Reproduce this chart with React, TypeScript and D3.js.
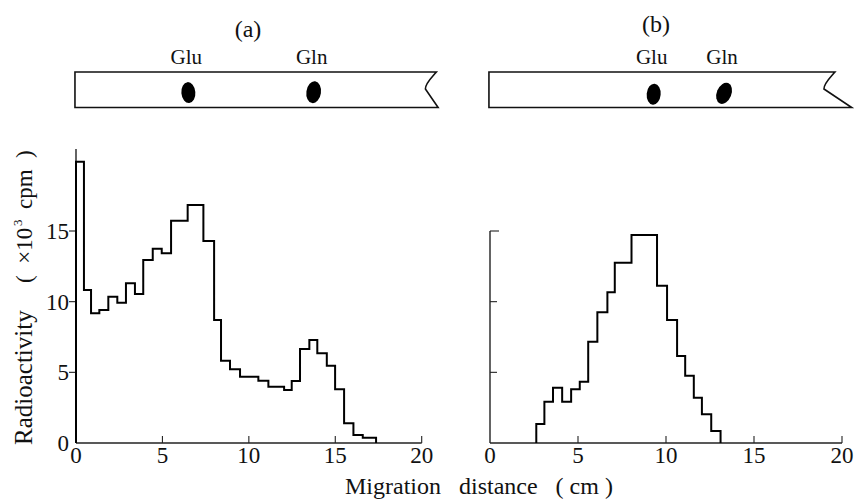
import React from 'react';
import * as d3 from 'd3';

// ---- data ----
const xTicks = [0, 5, 10, 15, 20];
const yTicksLeft = [0, 5, 10, 15];
const yTicksRight = [5, 10, 15];

// panel (a): bin edges (cm) and radioactivity (x10^3 cpm)
const edgesA = [0, 0.46, 0.87, 1.35, 1.87, 2.39, 2.89, 3.41, 3.89, 4.44, 4.96, 5.5, 6.46, 7.37, 7.99, 8.39, 8.91, 9.49, 10.55, 11.13, 12.04, 12.48, 12.96, 13.5, 13.96, 14.51, 14.99, 15.51, 16.05, 16.59, 17.36];
const valuesA = [19.9, 10.83, 9.18, 9.41, 10.35, 9.93, 11.3, 10.55, 12.95, 13.75, 13.43, 15.73, 16.84, 14.3, 8.7, 5.82, 5.22, 4.69, 4.41, 3.98, 3.75, 4.39, 6.65, 7.29, 6.35, 5.47, 3.8, 1.39, 0.57, 0.38];

// panel (b)
const edgesB = [2.63, 3.09, 3.58, 4.1, 4.61, 5.1, 5.58, 6.1, 6.67, 7.09, 8.04, 9.49, 10.06, 10.63, 11.09, 11.58, 12.04, 12.57, 13.1];
const valuesB = [1.34, 2.92, 3.91, 2.92, 3.8, 4.34, 7.17, 9.25, 10.67, 12.76, 14.72, 11.13, 8.7, 6.16, 4.76, 3.21, 2.03, 0.85];

// spots on the strips (cm)
const spotNames = ['Glu', 'Gln'];
const spotPosA = [6.5, 13.75];
const spotPosB = [9.3, 13.3];
const panelTitles = ['(a)', '(b)'];

const FF = 'Liberation Serif';
const NB = '\u00A0';

const xA = d3.scaleLinear().domain([0, 20]).range([76, 421.7]);
const xB = d3.scaleLinear().domain([0, 20]).range([490, 842]);
const y = d3.scaleLinear().domain([0, 15]).range([443, 231]);

function stepPath(x: d3.ScaleLinear<number, number>, edges: number[], values: number[]) {
  const pts: [number, number][] = [[edges[0], 0]];
  values.forEach((v, i) => pts.push([edges[i], v]));
  pts.push([edges[edges.length - 1], values[values.length - 1]]);
  pts.push([edges[edges.length - 1], 0]);
  const line = d3.line<[number, number]>()
    .x(d => x(d[0]))
    .y(d => y(d[1]))
    .curve(d3.curveStepAfter);
  return line(pts) || '';
}

// Liberation Serif digits are 0.5em wide; place labels by their known advance
const DIG = 23;
function Digits({ x, yy, text, align }: { x: number; yy: number; text: string; align: 'middle' | 'end' }) {
  const w = 0.5 * DIG * text.length;
  const x0 = align === 'middle' ? x - w / 2 : x - w;
  return <text x={x0} y={yy} fontFamily={FF} fontSize={DIG} fill="#111">{text}</text>;
}

function Strip({ x, x0, x1, x1b, spots, cy, rot }: any) {
  const top = 72, bot = 107.5;
  const L = x(x0), R = x(x1), Rb = x(x1b);
  const notch = R - 11;
  const d = `M${L},${top} H${R} C${R - 5},${top + 6} ${notch},${top + 11} ${notch},${top + 17} L${Rb},${bot} H${L} Z`;
  const fs = 21;
  return (
    <g>
      <path d={d} fill="none" stroke="#111" strokeWidth={1.6} />
      {spots.map((p: number, i: number) => (
        <g key={i}>
          <ellipse cx={x(p)} cy={cy[i]} rx={i === 0 ? 7 : 7.3} ry={i === 0 ? 10.5 : 11}
            transform={`rotate(${rot[i]},${x(p)},${cy[i]})`} fill="#000" />
          <text x={x(p) - 2 - 0.75 * fs} y={64} fontFamily={FF} fontSize={fs} fill="#111">{spotNames[i]}</text>
        </g>
      ))}
    </g>
  );
}

export default function App() {
  const dA = stepPath(xA, edgesA, valuesA);
  const dB = stepPath(xB, edgesB, valuesB);
  const axisColor = '#222';
  return (
    <svg width={855} height={502} style={{ position: 'absolute', left: 0, top: 0, background: '#fff', fontFamily: FF }}>
      {/* titles */}
      <text x={248 - 0.555 * 24} y={37} fontFamily={FF} fontSize={24} fill="#111">{panelTitles[0]}</text>
      <text x={656 - 0.583 * 24} y={32} fontFamily={FF} fontSize={24} fill="#111">{panelTitles[1]}</text>

      <Strip x={xA} x0={-0.06} x1={20.85} x1b={20.95} spots={spotPosA} cy={[92.6, 92.2]} rot={[-5, 8]} />
      <Strip x={xB} x0={-0.06} x1={19.6} x1b={20.55} spots={spotPosB} cy={[94.2, 93.3]} rot={[5, 22]} />

      {/* panel (a) axes */}
      <line x1={xA(0)} x2={xA(0)} y1={y(0)} y2={149} stroke={axisColor} strokeWidth={1.4} />
      <line x1={xA(0)} x2={xA(20)} y1={y(0)} y2={y(0)} stroke={axisColor} strokeWidth={1.4} />
      {yTicksLeft.filter(t => t > 0).map(t => (
        <line key={t} x1={xA(0) - 7} x2={xA(0)} y1={y(t)} y2={y(t)} stroke={axisColor} strokeWidth={1.1} />
      ))}
      {yTicksLeft.map(t => (
        <Digits key={t} x={69} yy={y(t) + 8} text={String(t)} align="end" />
      ))}
      {xTicks.filter(t => t > 0).map(t => (
        <line key={t} x1={xA(t)} x2={xA(t)} y1={y(0)} y2={y(0) - 7} stroke={axisColor} strokeWidth={1.1} />
      ))}
      {xTicks.map(t => (
        <Digits key={t} x={xA(t)} yy={463} text={String(t)} align="middle" />
      ))}
      <path d={dA} fill="none" stroke="#000" strokeWidth={2} />

      {/* panel (b) axes */}
      <line x1={xB(0)} x2={xB(0)} y1={y(0)} y2={y(15)} stroke={axisColor} strokeWidth={1.4} />
      <line x1={xB(0)} x2={xB(20)} y1={y(0)} y2={y(0)} stroke={axisColor} strokeWidth={1.4} />
      {yTicksRight.map(t => (
        <line key={t} x1={xB(0)} x2={xB(0) + (t === 15 ? 9 : 7)} y1={y(t)} y2={y(t)} stroke={axisColor} strokeWidth={1.1} />
      ))}
      {xTicks.filter(t => t > 0).map(t => (
        <line key={t} x1={xB(t)} x2={xB(t)} y1={y(0)} y2={y(0) - 7} stroke={axisColor} strokeWidth={1.1} />
      ))}
      {xTicks.map(t => (
        <Digits key={t} x={xB(t)} yy={463} text={String(t)} align="middle" />
      ))}
      <path d={dB} fill="none" stroke="#000" strokeWidth={2} />

      {/* axis titles */}
      <text x={345} y={494} fontFamily={FF} fontSize={24} fill="#111">{`Migration${NB}${NB}${NB}distance${NB}${NB}${NB}(${NB}cm${NB})`}</text>
      <g transform="translate(32,297) rotate(-90)">
        <text x={-148} y={0} fontFamily={FF} fontSize={25} fill="#111">Radioactivity</text>
        <text x={14} y={0} fontFamily={FF} fontSize={23} fill="#111">{`(${NB}${NB}×10`}</text>
        <text x={71} y={-10} fontFamily={FF} fontSize={13} fill="#111">3</text>
        <text x={88} y={0} fontFamily={FF} fontSize={23} fill="#111">{`cpm${NB}${NB})`}</text>
      </g>
    </svg>
  );
}
